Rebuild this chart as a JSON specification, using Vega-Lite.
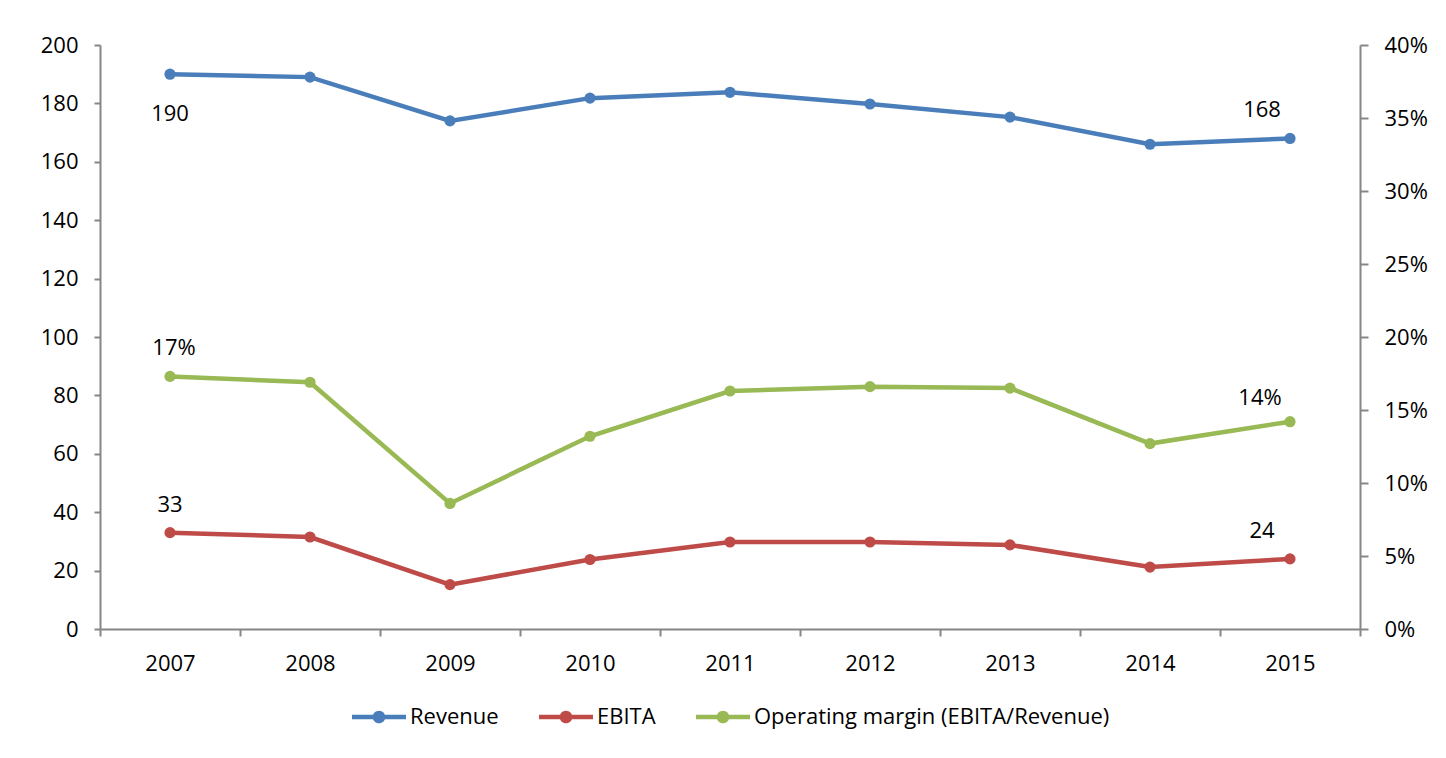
{
  "$schema": "https://vega.github.io/schema/vega-lite/v6.json",
  "autosize": {"type": "none"},
  "width": 1260,
  "height": 584,
  "padding": {"left": 100, "top": 45, "right": 86, "bottom": 129},
  "background": "white",
  "config": {
    "view": {"stroke": null},
    "font": "Open Sans",
    "axis": {
      "labelFont": "Open Sans",
      "labelFontSize": 22,
      "labelColor": "#000000",
      "domainColor": "#868686",
      "tickColor": "#868686",
      "domainWidth": 2,
      "tickWidth": 2,
      "grid": false,
      "title": null
    },
    "legend": {
      "labelFont": "Open Sans",
      "labelFontSize": 22,
      "labelColor": "#000000",
      "labelLimit": 600
    }
  },
  "data": {
    "values": [
      {"year": "2007", "series": "Revenue", "value": 190},
      {"year": "2008", "series": "Revenue", "value": 189},
      {"year": "2009", "series": "Revenue", "value": 174},
      {"year": "2010", "series": "Revenue", "value": 181.8},
      {"year": "2011", "series": "Revenue", "value": 183.8},
      {"year": "2012", "series": "Revenue", "value": 179.8},
      {"year": "2013", "series": "Revenue", "value": 175.3},
      {"year": "2014", "series": "Revenue", "value": 166},
      {"year": "2015", "series": "Revenue", "value": 168},
      {"year": "2007", "series": "EBITA", "value": 33},
      {"year": "2008", "series": "EBITA", "value": 31.5},
      {"year": "2009", "series": "EBITA", "value": 15.2},
      {"year": "2010", "series": "EBITA", "value": 23.8},
      {"year": "2011", "series": "EBITA", "value": 29.8},
      {"year": "2012", "series": "EBITA", "value": 29.8},
      {"year": "2013", "series": "EBITA", "value": 28.8},
      {"year": "2014", "series": "EBITA", "value": 21.2},
      {"year": "2015", "series": "EBITA", "value": 24},
      {"year": "2007", "series": "Operating margin (EBITA/Revenue)", "value": 0.173},
      {"year": "2008", "series": "Operating margin (EBITA/Revenue)", "value": 0.169},
      {"year": "2009", "series": "Operating margin (EBITA/Revenue)", "value": 0.086},
      {"year": "2010", "series": "Operating margin (EBITA/Revenue)", "value": 0.132},
      {"year": "2011", "series": "Operating margin (EBITA/Revenue)", "value": 0.163},
      {"year": "2012", "series": "Operating margin (EBITA/Revenue)", "value": 0.166},
      {"year": "2013", "series": "Operating margin (EBITA/Revenue)", "value": 0.165},
      {"year": "2014", "series": "Operating margin (EBITA/Revenue)", "value": 0.127},
      {"year": "2015", "series": "Operating margin (EBITA/Revenue)", "value": 0.142}
    ]
  },
  "encoding": {
    "x": {
      "field": "year",
      "type": "ordinal",
      "scale": {"type": "band", "paddingInner": 0, "paddingOuter": 0},
      "axis": {"labelAngle": 0, "tickBand": "extent", "tickSize": 7, "labelPadding": 17}
    },
    "color": {
      "field": "series",
      "type": "nominal",
      "scale": {
        "domain": ["Revenue", "EBITA", "Operating margin (EBITA/Revenue)"],
        "range": ["#4A7EBB", "#BE4B48", "#98B954"]
      },
      "legend": {
        "orient": "none",
        "legendX": 252,
        "legendY": 645,
        "direction": "horizontal",
        "title": null,
        "symbolType": "M-1,-0.085L1,-0.085L1,0.085L-1,0.085Z M0.235,0A0.235,0.235 0 1,1 -0.235,0A0.235,0.235 0 1,1 0.235,0Z",
        "symbolSize": 2916,
        "symbolStrokeWidth": 0,
        "columnPadding": 40,
        "labelOffset": 4,
        "encode": {
          "symbols": {
            "update": {
              "fill": {"scale": "color", "field": "value"},
              "strokeWidth": {"value": 0},
              "opacity": {"value": 1}
            }
          }
        }
      }
    }
  },
  "layer": [
    {
      "transform": [{"filter": "datum.series !== 'Operating margin (EBITA/Revenue)'"}],
      "encoding": {
        "y": {
          "field": "value",
          "type": "quantitative",
          "scale": {"domain": [0, 200], "nice": false},
          "axis": {
            "orient": "left",
            "values": [0, 20, 40, 60, 80, 100, 120, 140, 160, 180, 200],
            "tickSize": 6,
            "labelPadding": 16
          }
        }
      },
      "layer": [
        {"mark": {"type": "line", "strokeWidth": 4.5}},
        {"mark": {"type": "point", "filled": true, "size": 125, "opacity": 1}},
        {
          "transform": [{"filter": "datum.year === '2007' && datum.series === 'Revenue'"}],
          "mark": {"type": "text", "fontSize": 22, "color": "#000000", "baseline": "middle", "dy": 40},
          "encoding": {"text": {"field": "value", "format": "d"}, "color": {"value": "#000000"}}
        },
        {
          "transform": [{"filter": "datum.year === '2007' && datum.series === 'EBITA'"}],
          "mark": {"type": "text", "fontSize": 22, "color": "#000000", "baseline": "middle", "dy": -28},
          "encoding": {"text": {"field": "value", "format": "d"}, "color": {"value": "#000000"}}
        },
        {
          "transform": [{"filter": "datum.year === '2015'"}],
          "mark": {"type": "text", "fontSize": 22, "color": "#000000", "baseline": "middle", "dx": -28, "dy": -28},
          "encoding": {"text": {"field": "value", "format": "d"}, "color": {"value": "#000000"}}
        }
      ]
    },
    {
      "transform": [{"filter": "datum.series === 'Operating margin (EBITA/Revenue)'"}],
      "encoding": {
        "y": {
          "field": "value",
          "type": "quantitative",
          "scale": {"domain": [0, 0.4], "nice": false},
          "axis": {
            "orient": "right",
            "format": ".0%",
            "values": [0, 0.05, 0.1, 0.15, 0.2, 0.25, 0.3, 0.35, 0.4],
            "tickSize": 8,
            "labelPadding": 16
          }
        }
      },
      "layer": [
        {"mark": {"type": "line", "strokeWidth": 4.5}},
        {"mark": {"type": "point", "filled": true, "size": 125, "opacity": 1}},
        {
          "transform": [{"filter": "datum.year === '2007'"}],
          "mark": {"type": "text", "fontSize": 22, "color": "#000000", "baseline": "middle", "dx": 4, "dy": -28},
          "encoding": {"text": {"field": "value", "format": ".0%"}, "color": {"value": "#000000"}}
        },
        {
          "transform": [{"filter": "datum.year === '2015'"}],
          "mark": {"type": "text", "fontSize": 22, "color": "#000000", "baseline": "middle", "dx": -30, "dy": -24},
          "encoding": {"text": {"field": "value", "format": ".0%"}, "color": {"value": "#000000"}}
        }
      ]
    }
  ],
  "resolve": {"scale": {"y": "independent"}}
}
